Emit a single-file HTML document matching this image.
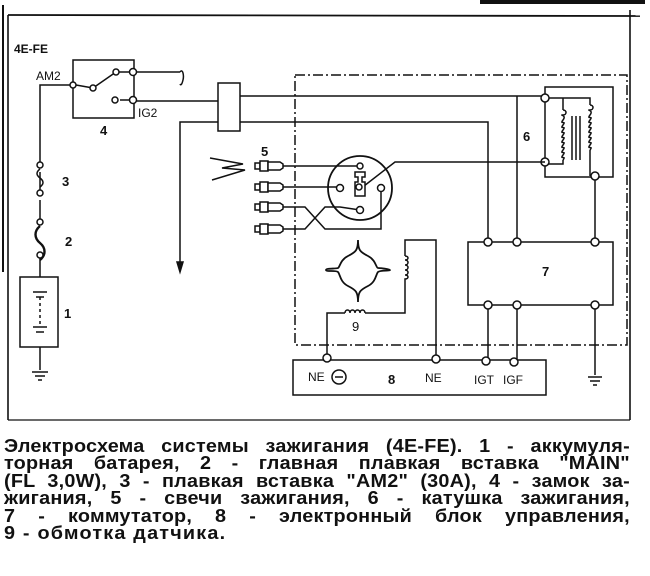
<!DOCTYPE html>
<html><head><meta charset="utf-8"><style>
body{margin:0;background:#fff;width:650px;height:576px;overflow:hidden;position:relative;font-family:"Liberation Sans",sans-serif}
svg{position:absolute;left:0;top:0}
.cap{position:absolute;left:4px;top:438px;width:569px;font-size:18px;font-weight:bold;line-height:17.4px;color:#111;letter-spacing:0.2px;transform:scaleX(1.1);transform-origin:0 0}
.cap div{text-align:justify;text-align-last:justify;white-space:nowrap;height:17.4px}
.cap div.l{text-align-last:left;letter-spacing:1.1px}
</style></head><body>
<svg width="650" height="430" viewBox="0 0 650 430" font-family="Liberation Sans, sans-serif" fill="none" stroke="#111" stroke-width="1.5">
<rect x="480" y="0" width="165" height="4" fill="#111" stroke="none"/>
<line x1="3" y1="5" x2="3" y2="272" stroke-width="2"/>
<line x1="8" y1="15" x2="640" y2="16" stroke-width="1.8"/>
<line x1="8" y1="15" x2="8" y2="420" stroke-width="1.6"/>
<line x1="630" y1="10" x2="630" y2="420" stroke-width="1.6"/>
<line x1="8" y1="420" x2="630" y2="420" stroke-width="1.2"/>
<g fill="#111" stroke="none" font-weight="bold" font-size="13">
<text x="14" y="53" font-size="12">4E-FE</text>
<text x="36" y="80" font-weight="normal" font-size="12">AM2</text>
<text x="138" y="117" font-weight="normal" font-size="12">IG2</text>
<text x="100" y="135">4</text><text x="62" y="186">3</text><text x="65" y="246">2</text><text x="64" y="318">1</text>
<text x="261" y="156">5</text><text x="523" y="141">6</text><text x="542" y="276">7</text><text x="388" y="384">8</text>
<text x="352" y="331" font-weight="normal">9</text>
<g font-weight="normal" font-size="12"><text x="308" y="381">NE</text><text x="425" y="382">NE</text><text x="474" y="384">IGT</text><text x="503" y="384">IGF</text></g>
</g>
<path d="M73 85H40V165M40 172V193M40 200V222M40 255V277M40 347V370"/>
<rect x="20" y="277" width="38" height="70"/>
<path d="M33 292H47M36 297H44M33 327H47M36 332H44" stroke-width="1.6"/>
<path d="M40 297V327" stroke-dasharray="3 3"/>
<path d="M32 372H48M35 376H45M38 380H42" stroke-width="1.5"/>
<path d="M40 169c-4 3-4 6 0 9s4 6 0 9" />
<path d="M40 226c-6 5-6 12 0 17s6 12 0 17" stroke-width="2.4"/>
<g fill="#fff"><circle cx="40" cy="165" r="3"/><circle cx="40" cy="193" r="3"/><circle cx="40" cy="222" r="3"/><circle cx="40" cy="255" r="3"/></g>
<rect x="73" y="60" width="61" height="58"/>
<path d="M76 85L93 88M93 88L116 72M119 72H133M137 72H180M180 72c3-4 4 4 3 8s-2 6-3 4"/>
<path d="M120 100H133M136 101H218M218 122H180V262"/>
<path d="M177 262L180 272L183 262Z" fill="#111"/>
<g fill="#fff"><circle cx="73" cy="85" r="3"/><circle cx="93" cy="88" r="3"/><circle cx="116" cy="72" r="3"/><circle cx="133" cy="72" r="3.5"/><circle cx="115" cy="100" r="3"/><circle cx="133" cy="100" r="3.5"/></g>
<rect x="218" y="83" width="22" height="48"/>
<path d="M240 96H545M240 122H488V242M517 96V242M595 176V242"/>
<rect x="295" y="75" width="332" height="270" stroke-dasharray="10 3 2 3"/>
<path d="M545 98V87H613V177H545V162M545 98V162M545 98H563V110M563 160V164H545M545 98H590V105M590 150V176"/>
<path d="M563 110c4 0 4 5 0 5s4 0 0 5 4 0 0 5 4 0 0 5 4 0 0 5 4 0 0 5 4 0 0 5 4 0 0 5 4 0 0 5 4 0 0 5"/>
<path d="M590 105c4 0 4 5 0 5s4 0 0 5 4 0 0 5 4 0 0 5 4 0 0 5 4 0 0 5 4 0 0 5 4 0 0 5 4 0 0 5"/>
<path d="M572 116V160M576 116V160M580 116V160"/>
<g fill="#fff"><circle cx="545" cy="98" r="4"/><circle cx="545" cy="162" r="4"/><circle cx="595" cy="176" r="4"/></g>
<rect x="468" y="242" width="145" height="63"/>
<path d="M488 305V360M517 305V360M595 305V375M588 377H602M590 381H600M593 385H597"/>
<g fill="#fff"><circle cx="488" cy="242" r="4"/><circle cx="517" cy="242" r="4"/><circle cx="595" cy="242" r="4"/><circle cx="488" cy="305" r="4"/><circle cx="517" cy="305" r="4"/><circle cx="595" cy="305" r="4"/></g>
<circle cx="360" cy="188" r="32" stroke-width="1.8"/>
<path d="M545 162H395L364 186"/>
<path d="M355 172h10v5h-3v5h3v14h-10v-14h3v-5h-3z" fill="#fff"/>
<path d="M283 166H360M283 187H337M283 207H305L325 229H381V192M283 229H305L325 207H340L360 210"/>
<g fill="#fff"><circle cx="360" cy="166" r="3"/><circle cx="340" cy="188" r="3.5"/><circle cx="360" cy="210" r="3.5"/><circle cx="381" cy="188" r="3.5"/><circle cx="359" cy="187" r="3"/></g>
<g fill="#fff">
<g transform="translate(0,166)"><rect x="255" y="-3" width="5" height="6"/><rect x="260" y="-5" width="8" height="10"/><path d="M268 -4H280L283 -2V2L280 4H268Z"/></g>
<g transform="translate(0,187)"><rect x="255" y="-3" width="5" height="6"/><rect x="260" y="-5" width="8" height="10"/><path d="M268 -4H280L283 -2V2L280 4H268Z"/></g>
<g transform="translate(0,207)"><rect x="255" y="-3" width="5" height="6"/><rect x="260" y="-5" width="8" height="10"/><path d="M268 -4H280L283 -2V2L280 4H268Z"/></g>
<g transform="translate(0,229)"><rect x="255" y="-3" width="5" height="6"/><rect x="260" y="-5" width="8" height="10"/><path d="M268 -4H280L283 -2V2L280 4H268Z"/></g>
</g>
<path d="M210 158L243 164L222 168L245 170L212 180" stroke-width="1.5"/>
<path d="M358 240c0 10 2 12 10 16s8 12 10 12 12 1 12 2-10 0-12 2-2 10-10 14-10 6-10 16c0-10-2-12-10-16s-8-12-10-14-12 0-12-2 10-1 12-2 2-8 10-12 10-6 10-16z" stroke-width="1.8"/>
<path d="M327 358V313H345M365 313H405V283M405 256V240H436V358"/>
<path d="M345 313c0-4 5-4 5 0 0-4 5-4 5 0 0-4 5-4 5 0 0-4 5-4 5 0"/>
<path d="M405 256c4 0 4 4 0 4 4 0 4 5 0 5 4 0 4 5 0 5 4 0 4 5 0 5 4 0 4 4 0 4v4"/>
<rect x="293" y="360" width="253" height="35"/>
<circle cx="339" cy="377" r="7"/><path d="M335 377H343"/>
<g fill="#fff"><circle cx="327" cy="358" r="4"/><circle cx="436" cy="359" r="4"/><circle cx="486" cy="361" r="4"/><circle cx="514" cy="362" r="4"/></g>
</svg>
<div class="cap">
<div>Электросхема системы зажигания (4E-FE). 1 - аккумуля-</div>
<div>торная батарея, 2 - главная плавкая вставка "MAIN"</div>
<div>(FL 3,0W), 3 - плавкая вставка "AM2" (30A), 4 - замок за-</div>
<div>жигания, 5 - свечи зажигания, 6 - катушка зажигания,</div>
<div>7 - коммутатор, 8 - электронный блок управления,</div>
<div class="l">9 - обмотка датчика.</div>
</div>
</body></html>
